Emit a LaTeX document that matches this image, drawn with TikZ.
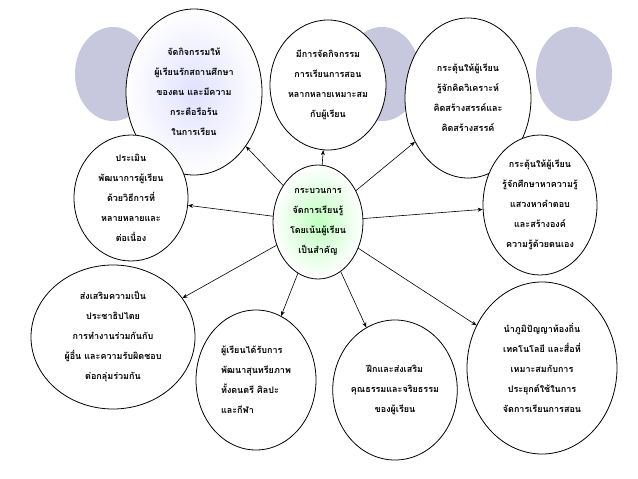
\documentclass[tikz,border=0pt]{standalone}
\usepackage{fontspec}
\newfontfamily\thaifont[Script=Thai]{Loma}
\usetikzlibrary{shapes.geometric,arrows.meta}
\begin{document}
\begin{tikzpicture}[x=1pt,y=-1pt,
  bub/.style={ellipse,draw=black,line width=0.8pt,fill=white,inner sep=0pt,align=center,font=\thaifont\bfseries\fontsize{9}{20}\selectfont},
  deco/.style={fill=blue!25!gray!35,draw=none},
  arr/.style={-{Stealth[length=5pt,width=4pt]},line width=0.6pt}]
\useasboundingbox (0,0) rectangle (638,479);
\fill[white] (0,0) rectangle (638,479);
\foreach \cx in {113,200,382,452,574}{\fill[deco] (\cx,74) ellipse [x radius=38,y radius=47];}
\node[bub,minimum width=136,minimum height=166,inner color=blue!12,outer color=white] (tl) at (194,92) {จัดกิจกรรมให้\\ผู้เรียนรักสถานศึกษา\\ของตน และมีความ\\กระตือรือร้น\\ในการเรียน};
\node[bub,minimum width=116,minimum height=130] (tm) at (328,85) {มีการจัดกิจกรรม\\การเรียนการสอน\\หลากหลายเหมาะสม\\กับผู้เรียน};
\node[bub,minimum width=126,minimum height=160] (tr) at (468,98) {กระตุ้นให้ผู้เรียน\\รู้จักคิดวิเคราะห์\\คิดสร้างสรรค์และ\\คิดสร้างสรรค์};
\node[bub,minimum width=114,minimum height=126] (lm) at (131,198) {ประเมิน\\พัฒนาการผู้เรียน\\ด้วยวิธีการที่\\หลายหลายและ\\ต่อเนื่อง};
\node[bub,minimum width=90,minimum height=114,inner color=green!25,outer color=white] (c) at (318,222) {กระบวนการ\\จัดการเรียนรู้\\โดยเน้นผู้เรียน\\เป็นสำคัญ};
\node[bub,minimum width=114,minimum height=140] (rm) at (540,205) {กระตุ้นให้ผู้เรียน\\รู้จักศึกษาหาความรู้\\แสวงหาคำตอบ\\และสร้างองค์\\ความรู้ด้วยตนเอง};
\node[bub,minimum width=164,minimum height=144] (bl) at (113,337) {ส่งเสริมความเป็น\\ประชาธิปไตย\\การทำงานร่วมกันกับ\\ผู้อื่น และความรับผิดชอบ\\ต่อกลุ่มร่วมกัน};
\node[bub,minimum width=120,minimum height=140,align=left] (bml) at (256,380) {ผู้เรียนได้รับการ\\พัฒนาสุนทรียภาพ\\ทั้งดนตรี ศิลปะ\\และกีฬา};
\node[bub,minimum width=116,minimum height=140] (bm) at (395,390) {ฝึกและส่งเสริม\\คุณธรรมและจริยธรรม\\ของผู้เรียน};
\node[bub,minimum width=150,minimum height=172] (br) at (542,368) {นำภูมิปัญญาท้องถิ่น\\เทคโนโลยี และสื่อที่\\เหมาะสมกับการ\\ประยุกต์ใช้ในการ\\จัดการเรียนการสอน};
\foreach \t in {tl,tm,tr,lm,rm,bl,bml,bm,br}{\draw[arr] (c) -- (\t);}
\end{tikzpicture}
\end{document}
